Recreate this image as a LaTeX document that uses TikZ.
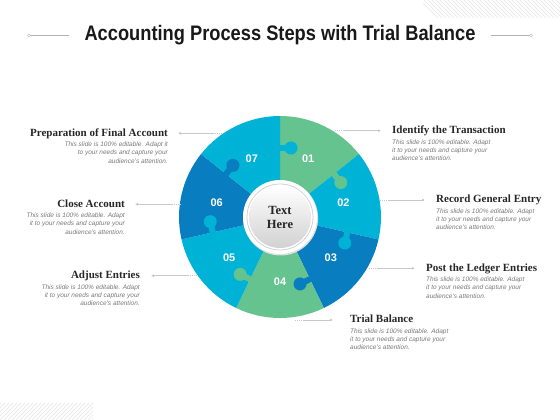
\documentclass[tikz,border=0pt]{standalone}
\usepackage{fontspec}
\setmainfont{Liberation Serif}
\setsansfont{Liberation Sans}
\newfontfamily\titlefont[FakeStretch=0.87]{Liberation Sans}
\usetikzlibrary{positioning,arrows.meta}

\definecolor{pzgreen}{RGB}{100,195,142}
\definecolor{pzcyan}{RGB}{0,178,214}
\definecolor{pzblue}{RGB}{8,126,192}
\definecolor{txtgray}{RGB}{120,120,120}
\definecolor{linegray}{RGB}{200,200,200}
\definecolor{hatchgray}{RGB}{236,236,236}

\begin{document}
\begin{tikzpicture}[x=1pt,y=1pt,
  head/.style={font=\fontsize{11}{13}\selectfont\bfseries, text=black!85, inner sep=0pt, text height=8pt, text depth=2.5pt},
  body/.style={font=\sffamily\itshape\fontsize{6.5}{8.3}\selectfont, text=txtgray, inner sep=0pt},
  conn/.style={draw=linegray, line width=0.6pt, dash pattern=on 0.8pt off 1.2pt on 0.8pt off 1.2pt on 0.8pt off 1.2pt on 0.8pt off 1.2pt on 200pt off 1pt, -{Latex[length=3pt,width=3pt]}},
  num/.style={font=\sffamily\bfseries\fontsize{11}{11}\selectfont, text=white}
]

\useasboundingbox (0,0) rectangle (560,420);

% hatched corners
\begin{scope}
  \clip (423,402) rectangle (560,420);
  \foreach \x in {420,424,...,580} \draw[hatchgray, line width=0.8pt] (\x,420) -- ++(18,-18);
\end{scope}
\begin{scope}
  \clip (0,0) rectangle (93,17);
  \foreach \x in {-20,-16,...,100} \draw[hatchgray, line width=0.8pt] (\x,0) -- ++(17,17);
\end{scope}

% title
\node[font=\titlefont\bfseries\fontsize{21}{21}\selectfont, text=black!90] (title) at (280,384.5) {Accounting Process Steps with Trial Balance};
\coordinate (tl) at (29,384.5);
\coordinate (tr) at (531,384.5);
\draw[black!30, line width=0.7pt] (tl) -- ([xshift=-12pt]title.west);
\draw[black!30, line width=0.7pt] (tr) -- ([xshift=12pt]title.east);
\draw[black!30, fill=white] (tl) circle (1.6);
\draw[black!30, fill=white] (tr) circle (1.6);

% puzzle ring
\coordinate (c) at (280,203);
\foreach \k/\col in {1/pzgreen,2/pzcyan,3/pzblue,4/pzgreen,5/pzcyan,6/pzblue,7/pzcyan}{
  \pgfmathsetmacro\a{90-(\k-1)*360/7}
  \fill[\col] (c) -- ++(\a:101) arc[start angle=\a, delta angle=-360/7, radius=101] -- cycle;
}
\foreach \k/\col in {1/pzgreen,2/pzcyan,3/pzblue,4/pzgreen,5/pzcyan,6/pzblue,7/pzcyan}{
  \pgfmathsetmacro\b{90-\k*360/7}
  \begin{scope}[shift={(c)}, rotate=\b]
    \fill[\col] (66,0.5) rectangle (72,-6);
    \fill[\col] (69,-11) circle (6.5);
  \end{scope}
}
\foreach \k in {1,...,7}{
  \pgfmathsetmacro\m{90-(\k-0.5)*360/7}
  \node[num] (n\k) at ([shift={(\m:65)}]c) {0\k};
}

% centre
\fill[black!12] ([shift={(0.6,-1)}]c) circle (37.5);
\fill[white] (c) circle (37);
\draw[black!18, line width=0.8pt] (c) circle (33);
\shade[top color=white, bottom color=black!18] (c) circle (31);
\node[font=\fontsize{12.5}{14}\selectfont\bfseries, align=center, text=black!85] (ctr) at (c) {Text\\Here};

% right side
\node[head, anchor=west] (h1) at (392,289.3) {Identify the Transaction};
\node[body, align=left, below=3pt of h1.south west, anchor=north west] (b1) {This slide is 100\% editable. Adapt\\it to your needs and capture your\\audience's attention.};
\coordinate (s1) at (335,289.3);
\draw[conn] (s1) -- ([xshift=-11pt]h1.west);

\node[head, anchor=west] (h2) at (436,220) {Record General Entry};
\node[body, align=left, below=3pt of h2.south west, anchor=north west] (b2) {This slide is 100\% editable. Adapt\\it to your needs and capture your\\audience's attention.};
\coordinate (s2) at (380,220);
\draw[conn] (s2) -- ([xshift=-11pt]h2.west);

\node[head, anchor=west] (h3) at (426,151.7) {Post the Ledger Entries};
\node[body, align=left, below=3pt of h3.south west, anchor=north west] (b3) {This slide is 100\% editable. Adapt\\it to your needs and capture your\\audience's attention.};
\coordinate (s3) at (369,151.7);
\draw[conn] (s3) -- ([xshift=-11pt]h3.west);

\node[head, anchor=west] (h4) at (350,100) {Trial Balance};
\node[body, align=left, below=3pt of h4.south west, anchor=north west] (b4) {This slide is 100\% editable. Adapt\\it to your needs and capture your\\audience's attention.};
\coordinate (s4) at (295,100);
\draw[conn] (s4) -- ([xshift=-17pt]h4.west);

% left side
\node[head, anchor=east] (h5) at (140,144.3) {Adjust Entries};
\node[body, align=right, below=3pt of h5.south east, anchor=north east] (b5) {This slide is 100\% editable. Adapt\\it to your needs and capture your\\audience's attention.};
\coordinate (s5) at (197,144.3);
\draw[conn] (s5) -- ([xshift=11pt]h5.east);

\node[head, anchor=east] (h6) at (125,215.7) {Close Account};
\node[body, align=right, below=3pt of h6.south east, anchor=north east] (b6) {This slide is 100\% editable. Adapt\\it to your needs and capture your\\audience's attention.};
\coordinate (s6) at (181,215.7);
\draw[conn] (s6) -- ([xshift=10pt]h6.east);

\node[head, anchor=east] (h7) at (168,286.7) {Preparation of Final Account};
\node[body, align=right, below=3pt of h7.south east, anchor=north east] (b7) {This slide is 100\% editable. Adapt it\\to your needs and capture your\\audience's attention.};
\coordinate (s7) at (222,286.7);
\draw[conn] (s7) -- ([xshift=10pt]h7.east);

\end{tikzpicture}
\end{document}
